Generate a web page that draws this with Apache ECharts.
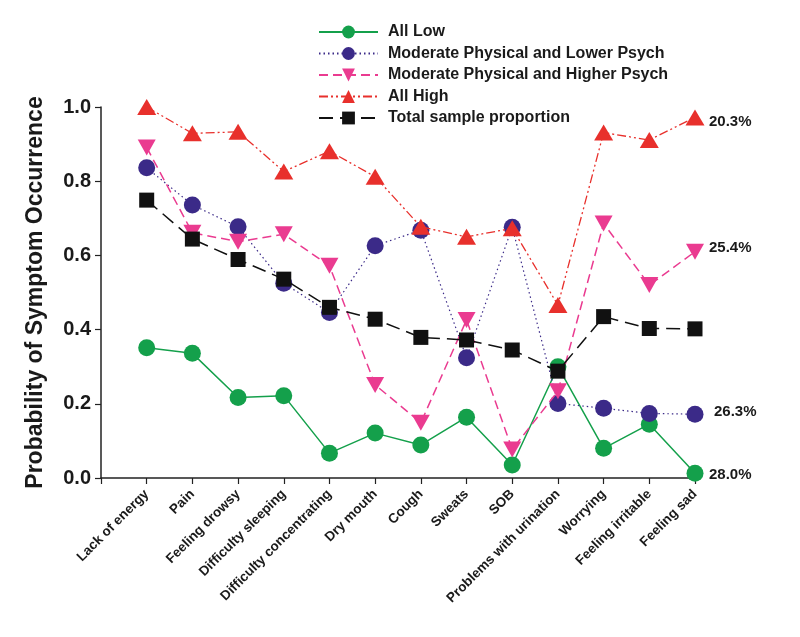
<!DOCTYPE html>
<html>
<head>
<meta charset="utf-8">
<script src="https://cdn.jsdelivr.net/npm/echarts@6/dist/echarts.min.js"></script>
<style>
  html, body { margin: 0; padding: 0; background: #fff; }
  #chart { width: 800px; height: 637px; }
</style>
</head>
<body>
<div id="chart"></div>
<script>
// symptoms along the x axis
const categories = ['Lack of energy', 'Pain', 'Feeling drowsy', 'Difficulty sleeping',
  'Difficulty concentrating', 'Dry mouth', 'Cough', 'Sweats', 'SOB',
  'Problems with urination', 'Worrying', 'Feeling irritable', 'Feeling sad'];

const allLow = [0.351, 0.336, 0.217, 0.222, 0.067, 0.121, 0.089, 0.164, 0.035, 0.300, 0.080, 0.145, 0.013];
const modPhysLowerPsych = [0.836, 0.736, 0.677, 0.525, 0.446, 0.626, 0.668, 0.324, 0.676, 0.201, 0.188, 0.174, 0.172];
const modPhysHigherPsych = [0.891, 0.661, 0.637, 0.657, 0.572, 0.251, 0.149, 0.426, 0.077, 0.234, 0.686, 0.520, 0.610];
const allHigh = [1.000, 0.929, 0.933, 0.826, 0.881, 0.812, 0.677, 0.650, 0.673, 0.466, 0.931, 0.911, 0.972];
const totalSample = [0.749, 0.644, 0.589, 0.536, 0.460, 0.428, 0.379, 0.372, 0.345, 0.288, 0.435, 0.403, 0.402];

const yTicks = [0, 0.2, 0.4, 0.6, 0.8, 1.0];

// class sizes shown at the right end of each line
const classShare = {
  allLow: '28.0%',
  lower: '26.3%',
  higher: '25.4%',
  allHigh: '20.3%'
};

const toPoints = arr => arr.map((v, i) => [i, v]);

const labelFont = { fontFamily: 'Liberation Sans, Arial, sans-serif', fontWeight: 'bold', color: '#1a1a1a' };

function endLabel(text, dx, dy) {
  return Object.assign({
    show: true,
    formatter: text,
    fontSize: 15,
    distance: 14,
    offset: [dx, dy]
  }, labelFont);
}

const chart = echarts.init(document.getElementById('chart'));

chart.setOption({
  animation: false,
  backgroundColor: '#fff',
  grid: { left: 101, right: 105, top: 107, bottom: 159 },
  legend: {
    orient: 'vertical',
    left: 313,
    top: 19,
    itemWidth: 59,
    itemHeight: 16,
    itemGap: 5.5,
    textStyle: Object.assign({ fontSize: 16, padding: [0, 0, 0, 5] }, labelFont),
    data: ['All Low', 'Moderate Physical and Lower Psych', 'Moderate Physical and Higher Psych',
      'All High', 'Total sample proportion']
  },
  xAxis: {
    type: 'value',
    min: -1,
    max: 12,
    interval: 1,
    splitLine: { show: false },
    axisLine: { show: true, onZero: false, lineStyle: { color: '#222', width: 1.5 } },
    axisTick: { show: true, length: 6, lineStyle: { color: '#222', width: 1.2 } },
    axisLabel: Object.assign({
      rotate: 45,
      margin: 14,
      fontSize: 13.5,
      formatter: v => categories[v] || ''
    }, labelFont)
  },
  yAxis: {
    type: 'value',
    min: 0,
    max: 1,
    interval: 0.2,
    name: 'Probability of Symptom Occurrence',
    nameLocation: 'middle',
    nameGap: 54,
    nameTextStyle: Object.assign({ fontSize: 23 }, labelFont),
    splitLine: { show: false },
    axisLine: { show: true, onZero: false, lineStyle: { color: '#222', width: 1.5 } },
    axisTick: { show: true, length: 6, lineStyle: { color: '#222', width: 1.2 } },
    axisLabel: Object.assign({
      fontSize: 20,
      margin: 10,
      formatter: v => yTicks.includes(v) ? v.toFixed(1) : ''
    }, labelFont)
  },
  series: [
    {
      name: 'All Low',
      type: 'line',
      data: toPoints(allLow),
      symbol: 'circle',
      symbolSize: 17,
      itemStyle: { color: '#14a04b' },
      lineStyle: { color: '#14a04b', width: 1.5, type: 'solid' },
      endLabel: endLabel(classShare.allLow, 0, 2),
      z: 2
    },
    {
      name: 'Moderate Physical and Lower Psych',
      type: 'line',
      data: toPoints(modPhysLowerPsych),
      symbol: 'circle',
      symbolSize: 17,
      itemStyle: { color: '#3b2a88' },
      lineStyle: { color: '#3b2a88', width: 1.2, type: [1.5, 3] },
      endLabel: endLabel(classShare.lower, 5, -2),
      z: 3
    },
    {
      name: 'Moderate Physical and Higher Psych',
      type: 'line',
      data: toPoints(modPhysHigherPsych),
      symbol: 'triangle',
      symbolRotate: 180,
      symbolSize: [18, 16],
      itemStyle: { color: '#ea3b90' },
      lineStyle: { color: '#ea3b90', width: 1.5, type: [9, 5] },
      endLabel: endLabel(classShare.higher, 0, -4),
      z: 4
    },
    {
      name: 'All High',
      type: 'line',
      data: toPoints(allHigh),
      symbol: 'triangle',
      symbolSize: [19, 16],
      itemStyle: { color: '#e8302c' },
      lineStyle: { color: '#e8302c', width: 1.3, type: [9, 3, 2, 3, 2, 3] },
      endLabel: endLabel(classShare.allHigh, 0, 4),
      z: 5
    },
    {
      name: 'Total sample proportion',
      type: 'line',
      data: toPoints(totalSample),
      symbol: 'rect',
      symbolSize: 15,
      itemStyle: { color: '#111' },
      lineStyle: { color: '#111', width: 1.5, type: [14, 7] },
      z: 6
    }
  ]
});
</script>
</body>
</html>
